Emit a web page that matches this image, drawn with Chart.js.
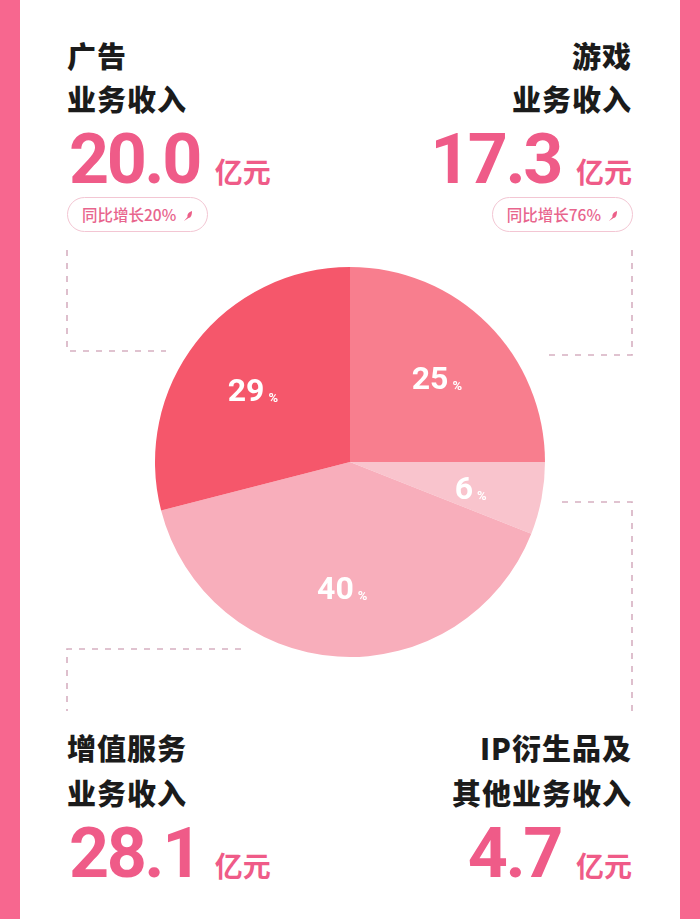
<!DOCTYPE html>
<html>
<head>
<meta charset="utf-8">
<script src="https://cdn.jsdelivr.net/npm/chart.js@4/dist/chart.umd.min.js"></script>
<style>
  html, body { margin:0; padding:0; }
  body { width:700px; height:919px; position:relative; background:#fff; overflow:hidden;
         font-family:"Noto Sans CJK SC","Noto Sans",sans-serif; }
  .band { position:absolute; top:0; bottom:0; width:20px; background:#F7678F; }
  .title { position:absolute; font-weight:900; font-size:29px; line-height:1; color:#1b1b1b; letter-spacing:1px; white-space:nowrap; }
  .num { position:absolute; white-space:nowrap; line-height:1; color:#EF5B88; }
  .num .v { font-family:Roboto,"DejaVu Sans",sans-serif; font-weight:700; font-size:70px; letter-spacing:-2.5px; }
  .num .u { font-family:"Noto Sans CJK SC",sans-serif; font-weight:700; font-size:28px; margin-left:15px; }
  .badge { position:absolute; height:33px; border:1.5px solid #F3C6D3; border-radius:18px; box-sizing:content-box;
           color:#E8658D; font-size:15.5px; font-weight:500; line-height:33px; padding:0 0 0 14px; white-space:nowrap; }
  .badge svg { vertical-align:middle; margin-left:7px; margin-right:14px; position:relative; top:-1px; }
  #dash { position:absolute; left:0; top:0; }
  #pieWrap { position:absolute; left:150px; top:262px; width:400px; height:400px; }
</style>
</head>
<body>
<div class="band" style="left:0"></div>
<div class="band" style="right:0"></div>

<svg id="dash" width="700" height="919">
  <g fill="none" stroke="#D6B0C1" stroke-width="1.6" stroke-dasharray="6 7">
    <polyline points="67,250 67,351 166,351"/>
    <polyline points="632,250 632,355 547,355"/>
    <polyline points="241,649 67,649 67,711"/>
    <polyline points="562,502 632,502 632,711"/>
  </g>
</svg>

<div id="pieWrap"><canvas id="pie" width="400" height="400"></canvas></div>

<div id="texts"></div>

<script>
// ---- data ----
const categories = ["游戏", "IP衍生品及其他", "增值服务", "广告"];
const sharePct = [25, 6, 40, 29];
const revenue = [17.3, 4.7, 28.1, 20.0];
const growth = ["76%", null, null, "20%"];
const sliceColors = ["#F87E8E", "#F9C4CD", "#F8AEBB", "#F5576B"];
const titleLines = [["游戏", "业务收入"], ["IP衍生品及", "其他业务收入"], ["增值服务", "业务收入"], ["广告", "业务收入"]];
const unit = "亿元";
const growthPrefix = "同比增长";

// ---- text blocks (layout) ----
const placements = {
  3: { side: "left", t1: 41, t2: 84, numTop: 124, badgeTop: 197 },
  0: { side: "right", t1: 41, t2: 84, numTop: 124, badgeTop: 197 },
  2: { side: "left", t1: 733, t2: 778, numTop: 818 },
  1: { side: "right", t1: 733, t2: 778, numTop: 818 }
};
const icon = '<svg width="10" height="12" viewBox="0 0 10 12"><path d="M9 1 C6 2 4 4 4.5 7 L1 11 L5.5 8 C8 8 9 5 9 1 Z" fill="#EC5F88"/></svg>';
const host = document.getElementById("texts");
Object.keys(placements).forEach(k => {
  const i = +k, p = placements[k];
  const pos = p.side === "left" ? "left:67px;" : "right:68px;text-align:right;";
  let h = "";
  h += `<div class="title" style="${pos}top:${p.t1}px">${titleLines[i][0]}</div>`;
  h += `<div class="title" style="${pos}top:${p.t2}px">${titleLines[i][1]}</div>`;
  h += `<div class="num" style="${p.side === "left" ? "left:69px;" : "right:68px;"}top:${p.numTop}px"><span class="v">${revenue[i].toFixed(1)}</span><span class="u">${unit}</span></div>`;
  if (growth[i] && p.badgeTop) {
    h += `<div class="badge" style="${p.side === "left" ? "left:67px;" : "right:67px;"}top:${p.badgeTop}px">${growthPrefix}${growth[i]}${icon}</div>`;
  }
  host.insertAdjacentHTML("beforeend", h);
});

// ---- pie ----
const labelPlugin = {
  id: "sliceLabels",
  afterDatasetsDraw(chart) {
    const ctx = chart.ctx;
    const meta = chart.getDatasetMeta(0);
    const vals = chart.data.datasets[0].data;
    ctx.save();
    ctx.fillStyle = "#ffffff";
    ctx.textBaseline = "middle";
    meta.data.forEach((arc, i) => {
      const pr = arc.getProps(["x", "y", "startAngle", "endAngle", "outerRadius"], true);
      const mid = (pr.startAngle + pr.endAngle) / 2;
      const r = pr.outerRadius * 0.63;
      const cx = pr.x + Math.cos(mid) * r;
      const cy = pr.y + Math.sin(mid) * r + 6;
      const big = "bold 32px Roboto, 'DejaVu Sans', sans-serif";
      const small = "bold 13px Roboto, 'DejaVu Sans', sans-serif";
      const numTxt = String(vals[i]);
      ctx.font = big; const w1 = ctx.measureText(numTxt).width;
      ctx.font = small; const w2 = ctx.measureText("%").width;
      const gap = 4;
      const x0 = cx - (w1 + gap + w2) / 2;
      ctx.textAlign = "left";
      ctx.font = big; ctx.fillText(numTxt, x0, cy);
      ctx.font = small; ctx.fillText("%", x0 + w1 + gap, cy + 6);
    });
    ctx.restore();
  }
};

new Chart(document.getElementById("pie"), {
  type: "pie",
  data: {
    labels: categories,
    datasets: [{ data: sharePct, backgroundColor: sliceColors, borderWidth: 0, hoverOffset: 0 }]
  },
  options: {
    responsive: false,
    animation: false,
    layout: { padding: 5 },
    plugins: { legend: { display: false }, tooltip: { enabled: false } }
  },
  plugins: [labelPlugin]
});
</script>
</body>
</html>
